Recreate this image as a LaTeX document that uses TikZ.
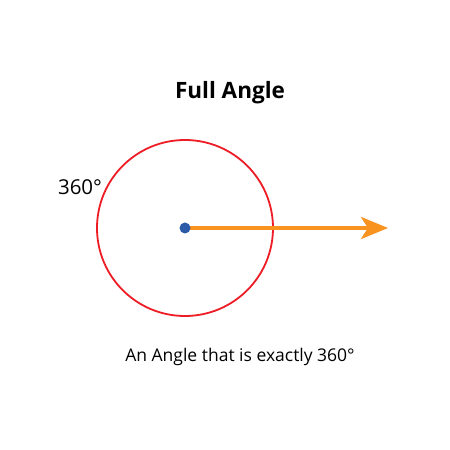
\documentclass[tikz,border=0pt]{standalone}
\usepackage{fontspec}
\setmainfont{Open Sans}
\usetikzlibrary{arrows.meta}
\definecolor{ringred}{HTML}{EE1C25}
\definecolor{arroworange}{HTML}{F7931E}
\definecolor{dotblue}{HTML}{2B5BA8}
\tikzset{
  lbl/.style={inner sep=0pt, text=black},
}
\begin{document}
\begin{tikzpicture}[x=1pt,y=1pt]
\useasboundingbox[fill=white] (0,0) rectangle (450,450);
\coordinate (c) at (185,222);
\draw[ringred, line width=1.8pt] (c) circle[radius=88];
\coordinate (tip) at (388,222);
\draw[arroworange, line width=4pt, -{Stealth[length=27pt,width=22pt,inset=7pt]}] (c) -- (tip);
\node[circle, fill=dotblue, inner sep=0pt, minimum size=11pt] (dot) at (c) {};
\node[lbl, font=\bfseries\fontsize{22.5}{26}\selectfont] (title) at (230,357) {Full Angle};
\node[lbl, font=\fontsize{20.5}{24}\selectfont] (deg) at (80,263) {360°};
\node[lbl, font=\fontsize{17.5}{20}\selectfont] (cap) at (240,93) {An Angle that is exactly 360°};
\end{tikzpicture}
\end{document}
